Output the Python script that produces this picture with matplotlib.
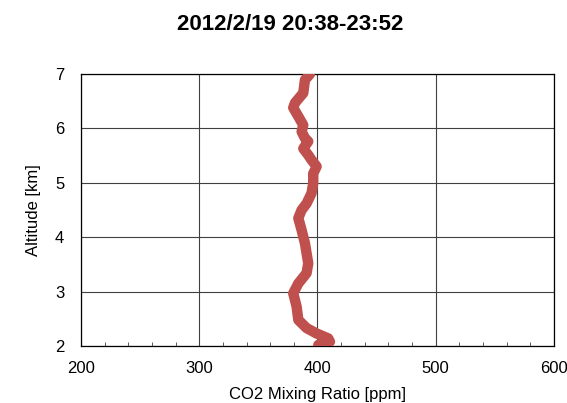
import matplotlib.pyplot as plt
from matplotlib.ticker import MultipleLocator

plt.rcParams["font.family"] = ["Liberation Sans", "DejaVu Sans"]

# profile: CO2 [ppm] vs altitude [km]
co2 = [393.7, 389.4, 388.0, 381.0, 379.5, 383.8, 388.0, 386.6, 389.4, 392.2,
       388.0, 392.2, 395.0, 399.3, 396.4, 396.4, 395.0, 390.8, 386.6, 383.8,
       386.6, 389.4, 392.2, 390.8, 383.8, 379.5, 382.4, 383.8, 390.8, 399.3,
       409.1, 410.6, 403.6, 400.7]
alt = [7.00, 6.89, 6.65, 6.47, 6.38, 6.22, 6.06, 5.94, 5.82, 5.76,
       5.63, 5.51, 5.42, 5.30, 5.17, 4.99, 4.81, 4.62, 4.50, 4.35,
       4.13, 3.89, 3.52, 3.34, 3.15, 2.97, 2.72, 2.48, 2.33, 2.23,
       2.14, 2.08, 2.02, 2.02]

fig = plt.figure(figsize=(5.67, 4.03), dpi=100)
ax = fig.add_axes([0.1429, 0.1414, 0.834, 0.675])

ax.plot(co2, alt, color="#C0504D", lw=7.5, solid_capstyle="round",
        solid_joinstyle="round", zorder=3)

ax.set_xlim(200, 600)
ax.set_ylim(2, 7)
ax.xaxis.set_major_locator(MultipleLocator(100))
ax.xaxis.set_minor_locator(MultipleLocator(20))
ax.yaxis.set_major_locator(MultipleLocator(1))
ax.grid(True, which="major", color="#404040", lw=0.8)
ax.set_axisbelow(True)

for s in ax.spines.values():
    s.set_color("black")
    s.set_linewidth(0.9)

ax.tick_params(axis="x", which="major", direction="in", length=0, labelsize=12, pad=11)
ax.tick_params(axis="x", which="minor", direction="in", length=3, color="#404040")
ax.tick_params(axis="y", which="major", length=0, labelsize=12, pad=12)

ax.set_xlabel("CO2 Mixing Ratio [ppm]", fontsize=12, labelpad=8)
ax.set_ylabel("Altitude [km]", fontsize=12, labelpad=10)

fig.text(0.512, 0.938, "2012/2/19 20:38-23:52", ha="center", va="center",
         fontsize=16, fontweight="bold")

fig.savefig("out.png", dpi=100)
